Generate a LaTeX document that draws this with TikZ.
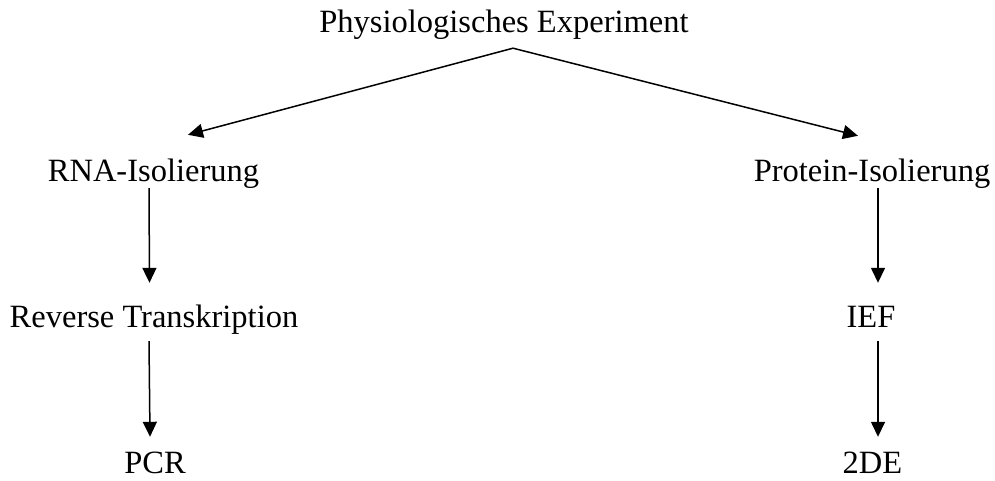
\documentclass[tikz,border=0pt]{standalone}
\usepackage{fontspec}
\setmainfont{Liberation Serif}
\usetikzlibrary{arrows.meta}
\begin{document}
\begin{tikzpicture}[x=1pt,y=-1pt,
  lbl/.style={anchor=base,inner sep=0pt,text height=22pt,text depth=7pt,font=\fontsize{32.5}{32.5}\selectfont},
  arr/.style={line width=1.5pt,-{Triangle[length=15pt,width=14pt]}}]
\useasboundingbox (0,0) rectangle (995,481);
\node[lbl] (top) at (504,33) {Physiologisches Experiment};
\node[lbl] (rna) at (153.5,182) {RNA-Isolierung};
\node[lbl] (prot) at (872,182) {Protein-Isolierung};
\node[lbl] (rt) at (154,327) {Reverse Transkription};
\node[lbl] (ief) at (871,327) {IEF};
\node[lbl] (pcr) at (155,473) {PCR};
\node[lbl] (tde) at (872.5,473) {2DE};
\draw[arr] ([xshift=9pt,yshift=-8pt]top.south) -- ([xshift=34.5pt,yshift=25pt]rna.north);
\draw[arr] ([xshift=9pt,yshift=-8pt]top.south) -- ([xshift=-14pt,yshift=24pt]prot.north);
\draw[arr] ([xshift=-4.5pt,yshift=1pt]rna.south) -- ([xshift=-4.5pt,yshift=22pt]rt.north);
\draw[arr] ([xshift=-5pt,yshift=-7pt]rt.south) -- ([xshift=-5pt,yshift=14pt]pcr.north);
\draw[arr] ([xshift=6pt,yshift=1pt]prot.south) -- ([xshift=7pt,yshift=22pt]ief.north);
\draw[arr] ([xshift=7pt,yshift=-7pt]ief.south) -- ([xshift=5.5pt,yshift=14pt]tde.north);
\end{tikzpicture}
\end{document}
